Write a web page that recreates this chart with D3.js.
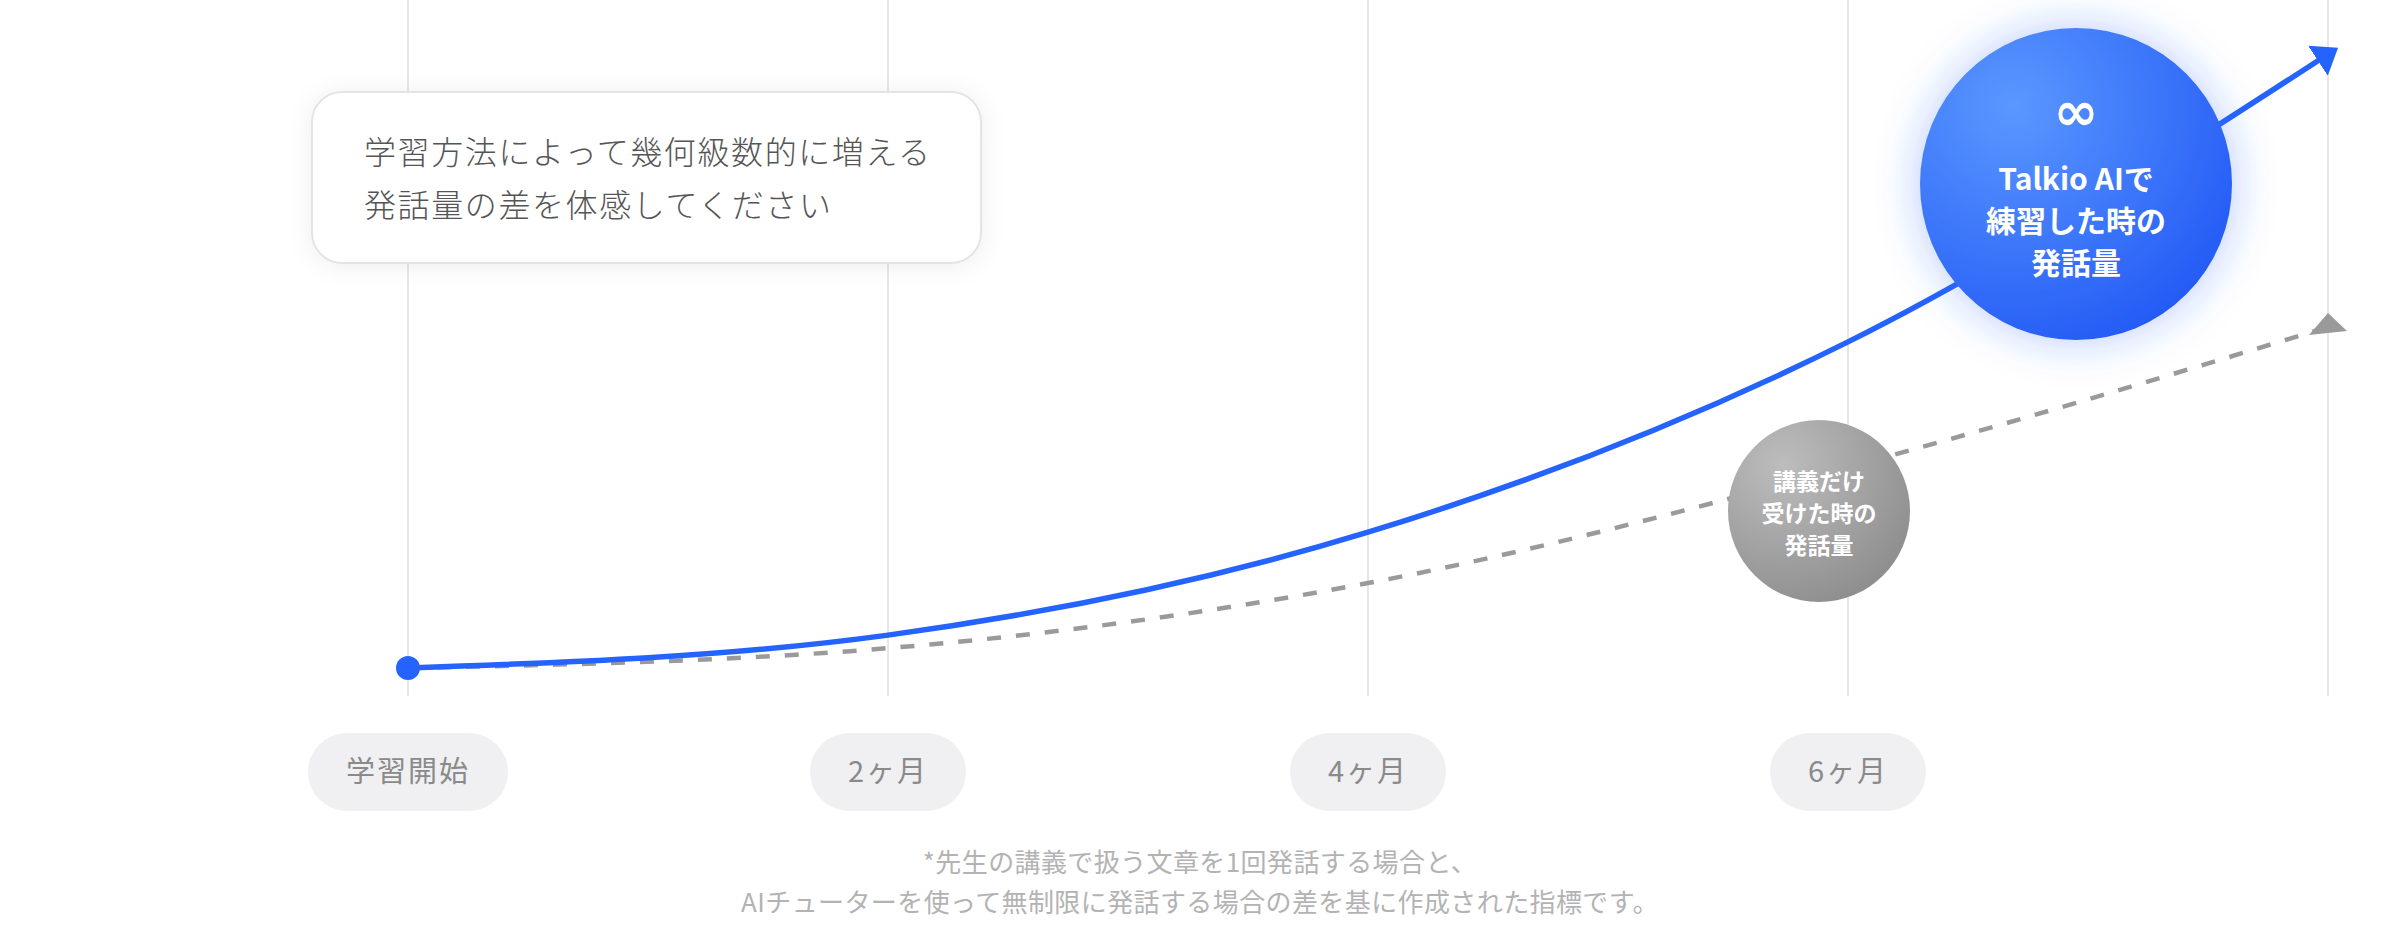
<!DOCTYPE html>
<html lang="ja">
<head>
<meta charset="UTF-8">
<script src="https://cdn.jsdelivr.net/npm/d3@7"></script>
<title>発話量の差</title>
<style>
    body { margin: 0; background: #fff; }
    svg { display: block; font-family: "Noto Sans CJK JP", "Noto Sans", sans-serif; }
</style>
</head>
<body>
<div id="chart"></div>
<script>
    // months on the x axis (last gridline has no label)
    const months = [0, 2, 4, 6, 8];
    const monthLabels = ["学習開始", "2ヶ月", "4ヶ月", "6ヶ月"];
    // speaking volume, arbitrary units
    const talkioValues = [0, 5.3, 21.9, 52.6, 99];
    const lectureValues = [0, 3.2, 13.7, 32.4, 55];

    const calloutLines = ["学習方法によって幾何級数的に増える", "発話量の差を体感してください"];
    const talkioLabel = ["Talkio AIで", "練習した時の", "発話量"];
    const lectureLabel = ["講義だけ", "受けた時の", "発話量"];
    const footnote = ["*先生の講義で扱う文章を1回発話する場合と、",
        "AIチューターを使って無制限に発話する場合の差を基に作成された指標です。"];

    const width = 2400, height = 944;
    const svg = d3.select("#chart").append("svg")
        .attr("width", width)
        .attr("height", height);

    const x = d3.scaleLinear().domain([0, 8]).range([408, 2328]);
    const y = d3.scaleLinear().domain([0, 100]).range([668, 48]);

    const defs = svg.append("defs");

    const blueGrad = defs.append("radialGradient").attr("id", "blueGrad")
        .attr("cx", "30%").attr("cy", "25%").attr("r", "85%");
    blueGrad.append("stop").attr("offset", "0%").attr("stop-color", "#5b98ff");
    blueGrad.append("stop").attr("offset", "100%").attr("stop-color", "#2259f5");

    const grayGrad = defs.append("radialGradient").attr("id", "grayGrad")
        .attr("cx", "30%").attr("cy", "25%").attr("r", "85%");
    grayGrad.append("stop").attr("offset", "0%").attr("stop-color", "#bdbdbd");
    grayGrad.append("stop").attr("offset", "100%").attr("stop-color", "#8c8c8c");

    const glow = defs.append("filter").attr("id", "glow")
        .attr("x", "-50%").attr("y", "-50%").attr("width", "200%").attr("height", "200%");
    glow.append("feDropShadow").attr("dx", 0).attr("dy", 0)
        .attr("stdDeviation", 22).attr("flood-color", "#2f66ff").attr("flood-opacity", 0.35);

    const boxShadow = defs.append("filter").attr("id", "boxShadow")
        .attr("x", "-20%").attr("y", "-40%").attr("width", "140%").attr("height", "180%");
    boxShadow.append("feDropShadow").attr("dx", 0).attr("dy", 2)
        .attr("stdDeviation", 12).attr("flood-color", "#000").attr("flood-opacity", 0.07);

    defs.append("marker").attr("id", "blueArrow")
        .attr("viewBox", "0 0 24 36").attr("refX", 12).attr("refY", 18)
        .attr("markerWidth", 24).attr("markerHeight", 36)
        .attr("markerUnits", "userSpaceOnUse").attr("orient", "auto")
        .append("path").attr("d", "M0,0 L24,18 L0,36 Z").attr("fill", "#2563ff");

    defs.append("marker").attr("id", "grayArrow")
        .attr("viewBox", "0 0 38 24").attr("refX", 19).attr("refY", 14)
        .attr("markerWidth", 38).attr("markerHeight", 24)
        .attr("markerUnits", "userSpaceOnUse").attr("orient", "0")
        .append("path").attr("d", "M19,0 L38,18 L0,22 Z").attr("fill", "#9a9a9a");

    // gridlines
    svg.append("g").selectAll("line")
        .data(months)
        .join("line")
        .attr("x1", d => x(d)).attr("x2", d => x(d))
        .attr("y1", 0).attr("y2", 696)
        .attr("stroke", "#e7e7e9").attr("stroke-width", 2);

    // callout box
    const callout = svg.append("g");
    callout.append("rect")
        .attr("x", 312).attr("y", 92).attr("width", 669).attr("height", 171)
        .attr("rx", 30)
        .attr("fill", "#fff").attr("stroke", "#e4e4e4").attr("stroke-width", 2)
        .attr("filter", "url(#boxShadow)");
    callout.selectAll("text")
        .data(calloutLines)
        .join("text")
        .attr("x", 364)
        .attr("y", (d, i) => 164 + i * 53)
        .attr("font-size", 32).attr("font-weight", 300)
        .attr("letter-spacing", 1.6)
        .attr("fill", "#555")
        .text(d => d);

    const line = d3.line()
        .x((d, i) => x(months[i]))
        .y(d => y(d))
        .curve(d3.curveMonotoneX);

    // lecture only (dashed)
    svg.append("path")
        .datum(lectureValues)
        .attr("d", line)
        .attr("fill", "none")
        .attr("stroke", "#9a9a9a").attr("stroke-width", 4.5)
        .attr("stroke-dasharray", "14 15")
        .attr("marker-end", "url(#grayArrow)");

    // gray bubble
    const gray = svg.append("g").attr("transform", "translate(1819,511)");
    gray.append("circle").attr("r", 91).attr("fill", "url(#grayGrad)");
    gray.selectAll("text")
        .data(lectureLabel)
        .join("text")
        .attr("text-anchor", "middle")
        .attr("y", (d, i) => -21 + i * 32)
        .attr("font-size", 23).attr("font-weight", 700)
        .attr("fill", "#fff")
        .text(d => d);

    // talkio line
    svg.append("path")
        .datum(talkioValues)
        .attr("d", line)
        .attr("fill", "none")
        .attr("stroke", "#2563ff").attr("stroke-width", 5.5)
        .attr("marker-end", "url(#blueArrow)");

    svg.append("circle")
        .attr("cx", x(months[0])).attr("cy", y(talkioValues[0]))
        .attr("r", 12).attr("fill", "#2563ff");

    // blue bubble
    const blue = svg.append("g").attr("transform", "translate(2076,184)");
    blue.append("circle").attr("r", 156).attr("fill", "url(#blueGrad)")
        .attr("filter", "url(#glow)");
    blue.append("text")
        .attr("text-anchor", "middle").attr("y", -54)
        .attr("font-size", 54).attr("font-weight", 700)
        .attr("fill", "#fff").attr("font-family", "DejaVu Sans, sans-serif")
        .text("∞");
    blue.selectAll("text.lbl")
        .data(talkioLabel)
        .join("text")
        .attr("class", "lbl")
        .attr("text-anchor", "middle")
        .attr("y", (d, i) => 6 + i * 42)
        .attr("font-size", 30).attr("font-weight", 700)
        .attr("fill", "#fff")
        .text(d => d);

    // month pills
    const pillW = [200, 156, 156, 156];
    const pills = svg.append("g").selectAll("g")
        .data(monthLabels)
        .join("g")
        .attr("transform", (d, i) => `translate(${x(months[i])},772)`);
    pills.append("rect")
        .attr("x", (d, i) => -pillW[i] / 2).attr("y", -39)
        .attr("width", (d, i) => pillW[i]).attr("height", 78)
        .attr("rx", 39)
        .attr("fill", "#f0f0f2");
    pills.append("text")
        .attr("text-anchor", "middle").attr("dy", "0.35em")
        .attr("font-size", 29).attr("letter-spacing", 2)
        .attr("fill", "#8a8a8a")
        .text(d => d);

    // footnote
    svg.append("g").selectAll("text")
        .data(footnote)
        .join("text")
        .attr("x", 1200)
        .attr("y", (d, i) => 872 + i * 40)
        .attr("text-anchor", "middle")
        .attr("font-size", 26).attr("letter-spacing", 0.4)
        .attr("fill", "#b3b3b3")
        .text(d => d);
</script>
</body>
</html>
